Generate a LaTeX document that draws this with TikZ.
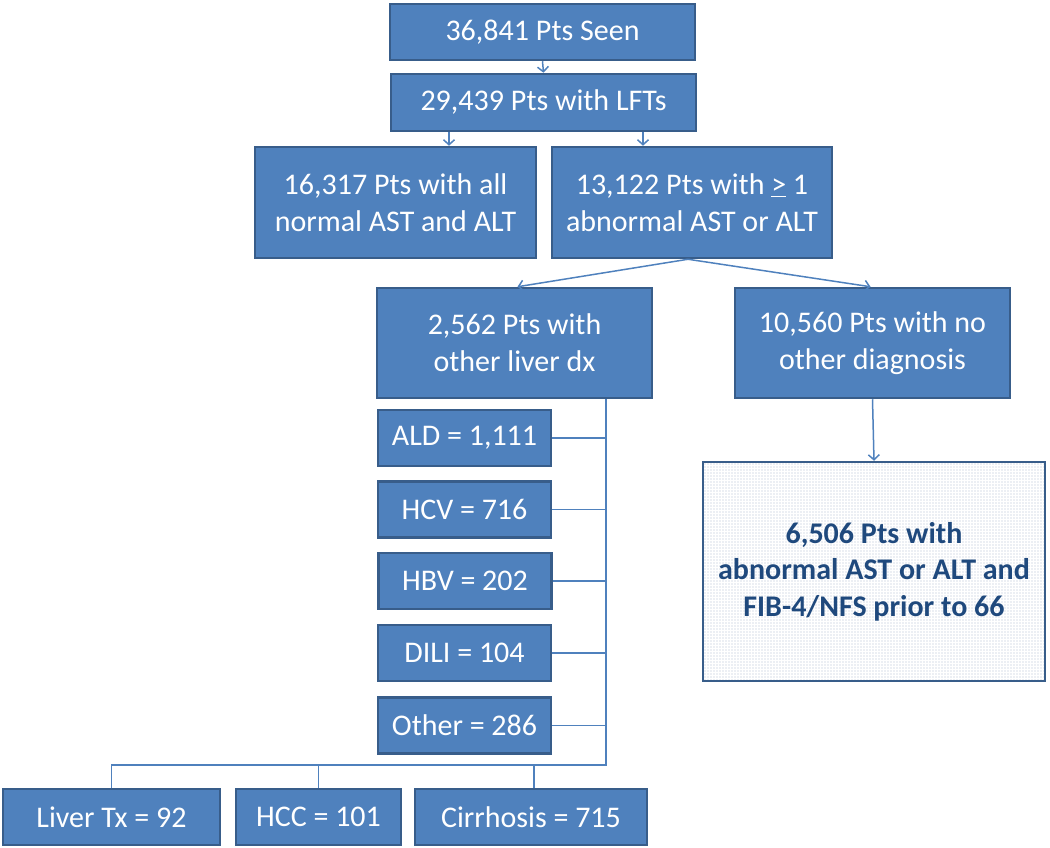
\documentclass[tikz,border=0pt]{standalone}
\usepackage{fontspec}
\setmainfont{Carlito}
\usetikzlibrary{arrows.meta,patterns.meta}
\definecolor{boxfill}{HTML}{4F81BD}
\definecolor{boxdraw}{HTML}{385D8A}
\definecolor{darktxt}{HTML}{1F497D}
\definecolor{dotcol}{HTML}{AEBBD0}
\tikzset{
 box/.style={draw=boxdraw, line width=2.5pt, fill=boxfill, text=white, align=center, inner sep=0pt, font=\fontsize{30pt}{37pt}\selectfont},
 conn/.style={draw=boxfill, line width=1.5pt},
 arr/.style={conn, -{Straight Barb[length=5pt,width=11pt]}},
 finalbox/.style={draw=boxdraw, line width=2.5pt, preaction={fill=white}, pattern={Dots[distance=3pt,radius=0.6pt]}, pattern color=dotcol, text=darktxt, align=center, inner sep=0pt, font=\fontsize{30pt}{36.5pt}\selectfont\bfseries},
}
\begin{document}
\begin{tikzpicture}[x=1pt,y=-1pt]
\useasboundingbox (0,0) rectangle (1050,848);
\node[box, minimum width=305pt, minimum height=56pt] (seen) at (542.5,32) {36,841 Pts Seen};
\node[box, minimum width=305pt, minimum height=57pt] (lft) at (543.5,102.5) {29,439 Pts with LFTs};
\node[box, minimum width=281pt, minimum height=111pt] (b3) at (395.5,202.5) {16,317 Pts with all\\normal AST and ALT};
\node[box, minimum width=280pt, minimum height=111pt] (b4) at (692,202.5) {13,122 Pts with \underline{>} 1\\abnormal AST or ALT};
\node[box, minimum width=275pt, minimum height=110pt] (b5) at (514.5,343) {2,562 Pts with\\other liver dx};
\node[box, minimum width=275pt, minimum height=110pt] (b6) at (872.5,343) {10,560 Pts with no\\other diagnosis};
\node[finalbox, minimum width=342pt, minimum height=219pt] (b7) at (874,571.5) {6,506 Pts with\\abnormal AST or ALT and\\FIB-4/NFS prior to 66};
\node[box, minimum width=173pt, minimum height=56pt] (ald) at (464.5,438) {ALD = 1,111};
\node[box, minimum width=173pt, minimum height=56pt] (hcv) at (464.5,509.5) {HCV = 716};
\node[box, minimum width=173pt, minimum height=56pt] (hbv) at (465,581) {HBV = 202};
\node[box, minimum width=173pt, minimum height=56pt] (dili) at (464.5,653) {DILI = 104};
\node[box, minimum width=173pt, minimum height=56pt] (oth) at (464.5,725.5) {Other = 286};
\node[box, minimum width=217pt, minimum height=56pt] (tx) at (111.5,817) {Liver Tx = 92};
\node[box, minimum width=165pt, minimum height=56pt] (hcc) at (318.5,817) {HCC = 101};
\node[box, minimum width=232pt, minimum height=56pt] (cir) at (531,817) {Cirrhosis = 715};
% connectors
\coordinate (a1) at (449,0);
\coordinate (a2) at (643,0);
\coordinate (br) at (688,0);
\coordinate (bus) at (606,765);
\draw[arr] (seen.south) -- (lft.north);
\draw[arr] (lft.south -| a1) -- (b3.north -| a1);
\draw[arr] (lft.south -| a2) -- (b4.north -| a2);
\draw[arr] (b4.south -| br) -- ([xshift=3pt]b5.north);
\draw[arr] (b4.south -| br) -- ([xshift=-2pt]b6.north);
\draw[arr] (b6.south) -- (b7.north);
\draw[conn] (b5.south -| bus) -- (bus) -- (bus -| tx.north) -- (tx.north);
\draw[conn] (ald.east) -- (ald.east -| bus);
\draw[conn] (hcv.east) -- (hcv.east -| bus);
\draw[conn] (hbv.east) -- (hbv.east -| bus);
\draw[conn] (dili.east) -- (dili.east -| bus);
\draw[conn] (oth.east) -- (oth.east -| bus);
\draw[conn] (hcc.north) -- (hcc.north |- bus);
\draw[conn] ([xshift=3pt]cir.north) -- ([xshift=3pt]cir.north |- bus);
\end{tikzpicture}
\end{document}
